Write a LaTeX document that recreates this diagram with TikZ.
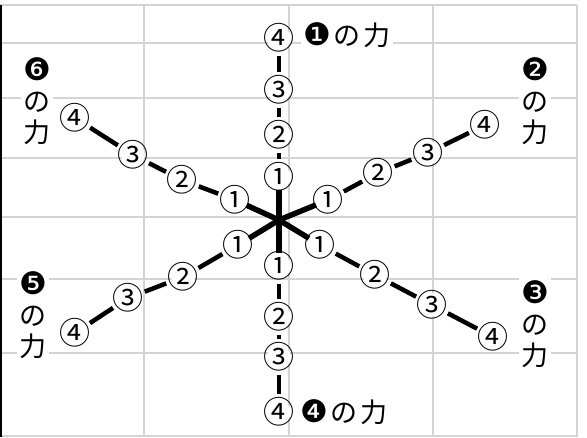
\documentclass[tikz,border=0pt]{standalone}
\usepackage{fontspec}
\newfontfamily\jpfont{Noto Sans CJK JP}
\newfontfamily\dingfont{DejaVu Sans}
\usetikzlibrary{calc}
\definecolor{gridcol}{RGB}{212,212,212}
\newcommand\ding[1]{{\dingfont\fontsize{31}{31}\selectfont #1}}

\begin{document}
\begin{tikzpicture}[x=1pt,y=-1pt,
  every node/.style={font=\jpfont},
  %% circled step numbers on the arms
  num/.style={
    circle, fill=white, inner sep=0pt, minimum size=22pt,
    text height=23.6pt, text depth=0pt,
    font=\jpfont\fontsize{31}{31}\selectfont
  },
  %% force labels -- white fill breaks the grid behind them
  lbl/.style={
    fill=white, inner sep=2pt, align=center,
    font=\jpfont\fontsize{27}{31}\selectfont
  },
  %% dashes between the numbers
  arm/.style={line width=4.5pt, shorten <=6pt, shorten >=6pt},
  %% thick spokes at the hub
  hub/.style={line width=5.5pt, shorten >=1pt},
  gl/.style={gridcol, line width=1.2pt},
]
\useasboundingbox (0,0) rectangle (587,437);

%%── Background grid ──────────────────────────────────────────────────────────
\foreach \x in {144,289,433,577}
  \draw[gl] (\x,5) -- (\x,437);
\foreach \y in {5,43,98,158,217,279,353,436}
  \draw[gl] (0,\y) -- (577,\y);
\draw[line width=1.2pt] (1,5) -- (1,437);

\coordinate (hub) at (279,220);

%%── Arm 1 (up) ───────────────────────────────────────────────────────────────
\node[num] (a1) at (279,177) {\makebox[0pt]{①}};
\node[num] (a2) at (279,135) {\makebox[0pt]{②}};
\node[num] (a3) at (279,90)  {\makebox[0pt]{③}};
\node[num] (a4) at (279,38)  {\makebox[0pt]{④}};

%%── Arm 2 (upper right) ──────────────────────────────────────────────────────
\node[num] (b1) at (328,200) {\makebox[0pt]{①}};
\node[num] (b2) at (378,173) {\makebox[0pt]{②}};
\node[num] (b3) at (428,153) {\makebox[0pt]{③}};
\node[num] (b4) at (485,125) {\makebox[0pt]{④}};

%%── Arm 3 (lower right) ──────────────────────────────────────────────────────
\node[num] (c1) at (320,245) {\makebox[0pt]{①}};
\node[num] (c2) at (375,275) {\makebox[0pt]{②}};
\node[num] (c3) at (432,305) {\makebox[0pt]{③}};
\node[num] (c4) at (493,337) {\makebox[0pt]{④}};

%%── Arm 4 (down) ─────────────────────────────────────────────────────────────
\node[num] (d1) at (279,266) {\makebox[0pt]{①}};
\node[num] (d2) at (279,317) {\makebox[0pt]{②}};
\node[num] (d3) at (279,357) {\makebox[0pt]{③}};
\node[num] (d4) at (279,412) {\makebox[0pt]{④}};

%%── Arm 5 (lower left) ───────────────────────────────────────────────────────
\node[num] (e1) at (238,245) {\makebox[0pt]{①}};
\node[num] (e2) at (183,277) {\makebox[0pt]{②}};
\node[num] (e3) at (128,298) {\makebox[0pt]{③}};
\node[num] (e4) at (75,333)  {\makebox[0pt]{④}};

%%── Arm 6 (upper left) ───────────────────────────────────────────────────────
\node[num] (f1) at (235,200) {\makebox[0pt]{①}};
\node[num] (f2) at (182,180) {\makebox[0pt]{②}};
\node[num] (f3) at (133,155) {\makebox[0pt]{③}};
\node[num] (f4) at (75,118)  {\makebox[0pt]{④}};

%%── Force labels ─────────────────────────────────────────────────────────────
\node[lbl] (L1) at (347,35)  {\ding{❶}\hspace{3pt}の\hspace{3pt}力};
\node[lbl] (L2) at (535,101) {\ding{❷}\\の\\力};
\node[lbl] (L3) at (535,324) {\ding{❸}\\の\\力};
\node[lbl] (L4) at (344,412) {\ding{❹}\hspace{3pt}の\hspace{3pt}力};
\node[lbl] (L5) at (33,315)  {\ding{❺}\\の\\力};
\node[lbl] (L6) at (37,101)  {\ding{❻}\\の\\力};

%%── Spokes and dashes ────────────────────────────────────────────────────────
\foreach \a in {a,b,c,d,e,f} {
  \draw[hub] (hub) -- (\a1);
  \draw[arm] (\a1) -- (\a2);
  \draw[arm] (\a2) -- (\a3);
  \draw[arm] (\a3) -- (\a4);
}

\end{tikzpicture}
\end{document}
